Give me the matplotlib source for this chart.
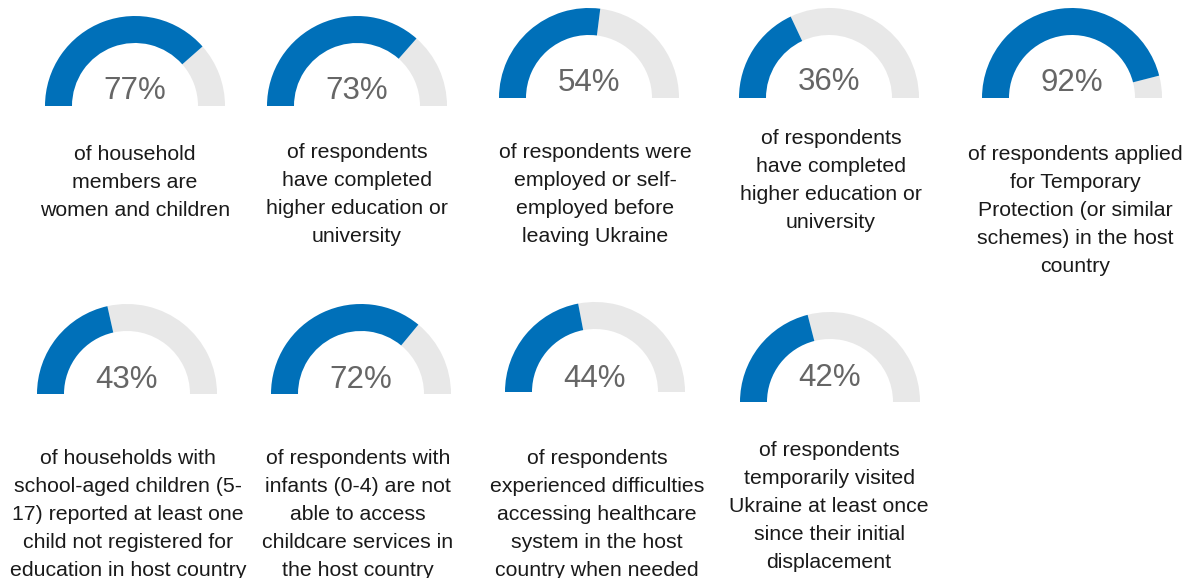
import matplotlib.pyplot as plt
from matplotlib.patches import Wedge

# values shown on the gauges (percent)
values = [77, 73, 54, 36, 92, 43, 72, 44, 42]
labels = [
    "of household\nmembers are\nwomen and children",
    "of respondents\nhave completed\nhigher education or\nuniversity",
    "of respondents were\nemployed or self-\nemployed before\nleaving Ukraine",
    "of respondents\nhave completed\nhigher education or\nuniversity",
    "of respondents applied\nfor Temporary\nProtection (or similar\nschemes) in the host\ncountry",
    "of households with\nschool-aged children (5-\n17) reported at least one\nchild not registered for\neducation in host country",
    "of respondents with\ninfants (0-4) are not\nable to access\nchildcare services in\nthe host country",
    "of respondents\nexperienced difficulties\naccessing healthcare\nsystem in the host\ncountry when needed",
    "of respondents\ntemporarily visited\nUkraine at least once\nsince their initial\ndisplacement",
]

# layout (pixel coords, y measured from top)
gauge_x = [135, 357, 589, 829, 1072, 127, 361, 595, 830]
gauge_y = [106, 106, 98, 98, 98, 394, 394, 392, 402]
pct_y = [91, 91, 83, 82, 83, 380, 380, 379, 378]
label_x = [135, 357, 595, 831, 1075, 128, 358, 597, 829]
label_y = [182, 194, 194, 180, 210, 514, 514, 514, 507]

W, H = 1200, 578
R, WIDTH = 90, 27
BLUE = "#0070b9"
GREY = "#e8e8e8"

fig = plt.figure(figsize=(12, 5.78), dpi=100)
ax = fig.add_axes([0, 0, 1, 1])
ax.set_xlim(0, W)
ax.set_ylim(0, H)
ax.set_aspect("equal")
ax.axis("off")

for i, v in enumerate(values):
    cx, cy = gauge_x[i], H - gauge_y[i]
    split = 180 - 180 * v / 100
    ax.add_patch(Wedge((cx, cy), R, 0, split, width=WIDTH, color=GREY, lw=0))
    ax.add_patch(Wedge((cx, cy), R, split, 180, width=WIDTH, color=BLUE, lw=0))
    ax.text(cx, H - pct_y[i], f"{v}%", ha="center", va="center",
            fontsize=22.5, color="#666666", family="Liberation Sans")
    ax.text(label_x[i], H - label_y[i], labels[i], ha="center", va="center",
            multialignment="center", fontsize=15.3, color="#1a1a1a",
            family="Liberation Sans", linespacing=1.6)

fig.savefig("out.png", dpi=100)
